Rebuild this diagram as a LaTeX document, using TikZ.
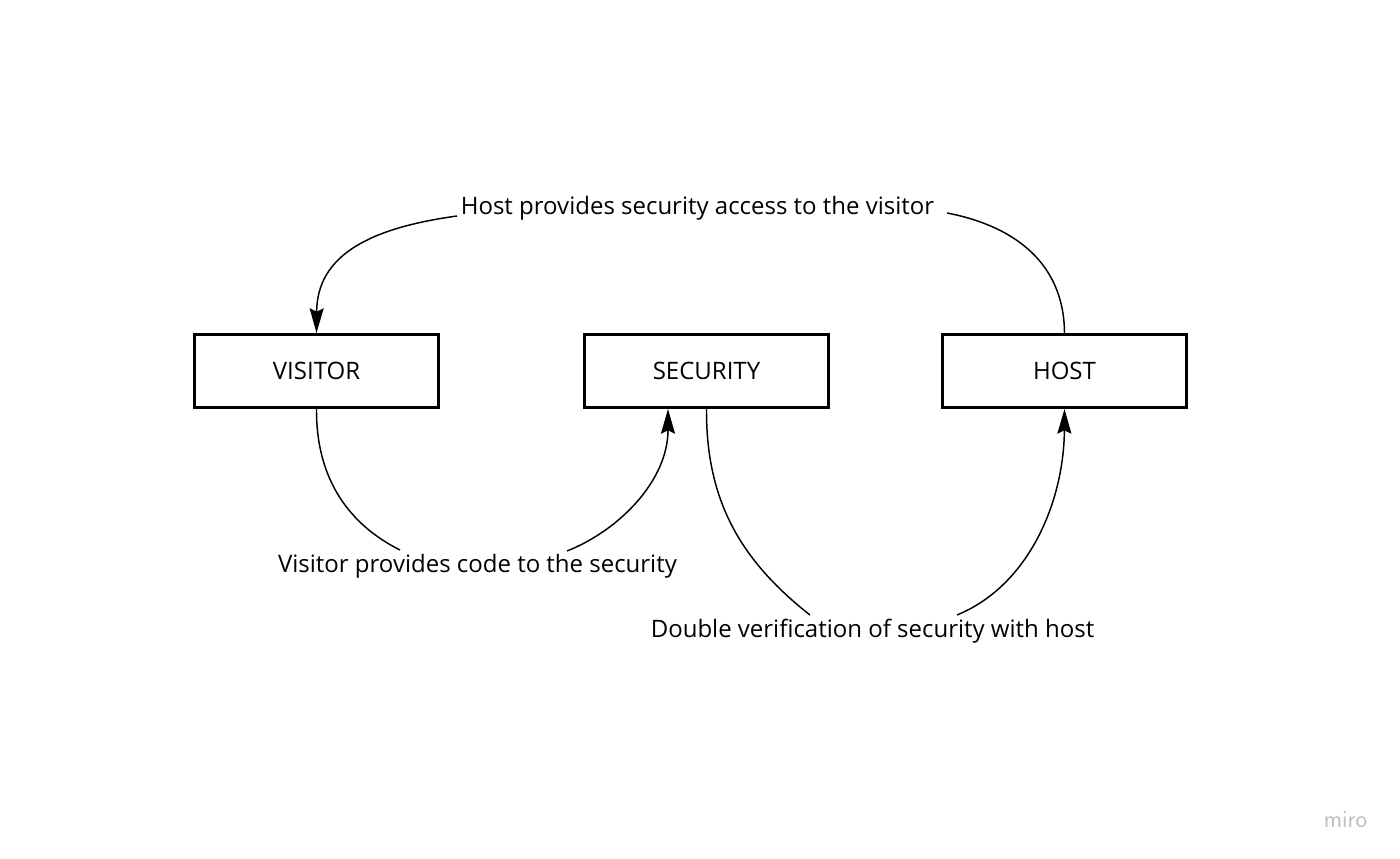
\documentclass[tikz,border=0pt]{standalone}
\usepackage{fontspec}
\setmainfont{Open Sans}
\usetikzlibrary{arrows.meta,calc}
\begin{document}
\begin{tikzpicture}[x=0.75pt,y=-0.75pt,
  box/.style={draw=black,line width=2.25pt,minimum width=183pt,minimum height=54.75pt,inner sep=0pt,font=\fontsize{18}{21}\selectfont},
  lbl/.style={anchor=base,inner sep=0pt,font=\fontsize{18}{21}\selectfont},
  conn/.style={line width=1.1pt},
  tip/.style={-{Stealth[length=18.5pt,width=10.5pt,inset=2.5pt]}}
]
\useasboundingbox (0,0) rectangle (1400,859);
\fill[white] (0,0) rectangle (1400,859);
\node[box] (visitor) at (316.5,371) {VISITOR};
\node[box] (security) at (706.5,371) {SECURITY};
\node[box] (host) at (1064.5,371) {HOST};
\node[lbl] (top) at (697.5,215) {Host provides security access to the visitor};
\node[lbl] (vis) at (477.5,572) {Visitor provides code to the security};
\node[lbl] (dbl) at (872.5,637) {Double verification of security with host};
\node[anchor=base,inner sep=0pt,text=black!25,font=\sffamily\fontsize{18.5}{20}\selectfont] (miro) at (1345.5,827) {miro};
\coordinate (t1) at (457,216);
\coordinate (t2) at (947,213);
\coordinate (v1) at (400,550);
\coordinate (v2) at (567,551);
\coordinate (d1) at (810,615);
\coordinate (d2) at (957,615);
\draw[conn,tip] (t1) .. controls (370,228) and (317,255) .. (visitor.north);
\draw[conn] (t2) .. controls (1010,225) and (1064,260) .. (host.north);
\draw[conn] (visitor.south) .. controls (316,480) and (350,525) .. (v1);
\draw[conn,tip] (v2) .. controls (620,530) and (668,480) .. ($(security.south)+(-38.5,0)$);
\draw[conn] (security.south) .. controls (706,500) and (740,560) .. (d1);
\draw[conn,tip] (d2) .. controls (1030,585) and (1064,500) .. (host.south);
\end{tikzpicture}
\end{document}
